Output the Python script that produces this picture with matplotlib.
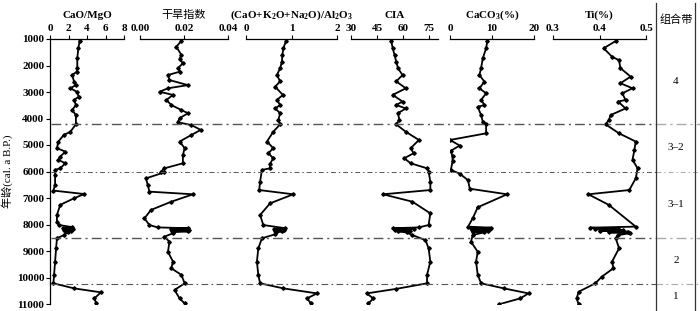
import matplotlib
matplotlib.use('Agg')
import matplotlib.pyplot as plt

plt.rcParams['font.family'] = ['Liberation Serif', 'Noto Sans CJK SC']
plt.rcParams['axes.unicode_minus'] = False
plt.rcParams['mathtext.fontset'] = 'custom'
plt.rcParams['mathtext.rm'] = 'Liberation Serif'
plt.rcParams['mathtext.bf'] = 'Liberation Serif:bold'
plt.rcParams['mathtext.default'] = 'bf'

# ages (cal. a B.P.) and values for each proxy
cao_mgo_age = [1075, 1350, 1730, 2100, 2230, 2360, 2610, 2740, 2860, 2990, 3180, 3300, 3490, 3680, 3870,
               4220, 4500, 4620, 4870, 5120, 5250, 5440, 5560, 5690, 5880, 5940, 6130, 6500, 6720, 6850,
               7010, 7260, 7640, 7890, 8020, 8100, 8140, 8170, 8200, 8230, 8260, 8300, 8400, 8520, 8900,
               9400, 9900, 10220, 10410, 10560, 10790, 10980]
cao_mgo = [3.2, 3.06, 2.95, 2.95, 2.9, 2.4, 2.6, 2.8, 2.2, 2.9, 3.1, 2.6, 2.8, 2.4, 2.8,
           2.8, 2.2, 1.5, 0.9, 0.75, 1.66, 1.1, 0.9, 1.66, 1.1, 0.55, 0.55, 0.55, 0.37, 3.7,
           2.6, 1.1, 0.75, 0.75, 1.0, 2.4, 1.4, 2.5, 1.5, 2.3, 1.6, 1.9, 1.5, 0.75, 0.66,
           0.55, 0.44, 0.37, 2.6, 5.5, 4.8, 5.0]

arid_age = [1075, 1290, 1600, 1750, 1920, 2100, 2230, 2360, 2550, 2740, 2860, 2990, 3110, 3300, 3490,
            3680, 3800, 3990, 4140, 4250, 4430, 4620, 4870, 5120, 5380, 5690, 5880, 6000, 6030, 6260,
            6500, 6760, 6860, 7140, 7450, 7770, 8020, 8110, 8140, 8170, 8200, 8230, 8260, 8290, 8330,
            8460, 8650, 9030, 9400, 9650, 9900, 10220, 10470, 10790, 10980]
arid = [0.0188, 0.0165, 0.0188, 0.018, 0.0195, 0.0172, 0.0182, 0.0127, 0.0134, 0.0218, 0.0127, 0.0089, 0.015, 0.012, 0.0142,
        0.0188, 0.0218, 0.018, 0.0172, 0.0234, 0.0276, 0.0234, 0.018, 0.0203, 0.0195, 0.0195, 0.0111, 0.0096, 0.0111, 0.0027,
        0.0035, 0.0043, 0.0241, 0.0142, 0.005, 0.002, 0.0043, 0.008, 0.0218, 0.014, 0.0222, 0.0145, 0.0220, 0.0150, 0.015,
        0.0111, 0.0134, 0.0127, 0.015, 0.0142, 0.0188, 0.0203, 0.0157, 0.018, 0.0203]

base_age = [1075, 1350, 1600, 1850, 2100, 2360, 2600, 2800, 3110, 3300, 3490, 3620, 3800, 4060, 4220,
            4500, 4870, 5120, 5310, 5500, 5700, 5880, 5940, 6380, 6700, 6860, 7200, 7640, 8020, 8140,
            8170, 8200, 8230, 8260, 8300, 8370, 8520, 8900, 9400, 9900, 10220, 10410, 10600, 10790, 10980]
base = [0.88, 0.82, 0.80, 0.79, 0.75, 0.68, 0.75, 0.64, 0.81, 0.68, 0.75, 0.64, 0.75, 0.71, 0.75,
        0.60, 0.46, 0.60, 0.49, 0.60, 0.53, 0.53, 0.35, 0.31, 0.29, 1.04, 0.53, 0.31, 0.38, 0.86,
        0.62, 0.84, 0.64, 0.80, 0.66, 0.64, 0.35, 0.27, 0.24, 0.27, 0.31, 0.82, 1.56, 1.34, 1.43]

cia_age = [1075, 1350, 1600, 1850, 2100, 2360, 2600, 2860, 3110, 3360, 3490, 3620, 3800, 4060, 4220,
           4500, 4810, 5120, 5310, 5500, 5690, 5880, 6000, 6380, 6700, 6860, 7140, 7580, 8020, 8110,
           8140, 8170, 8200, 8230, 8260, 8300, 8400, 8590, 8900, 9400, 9900, 10220, 10430, 10600, 10790, 10980]
cia = [53.1, 54, 55, 56, 57, 59.6, 56, 61.5, 54, 59.6, 56, 61.5, 57, 57.8, 55.9,
       61.5, 69, 64.3, 66, 60.6, 64.3, 73.7, 74.6, 75.6, 75.6, 48.4, 65.3, 75.6, 74.6, 69,
       54, 66, 55, 64, 57, 62, 65.3, 72.8, 74.6, 75.6, 73.7, 73.7, 55.9, 39, 42.8, 40]

caco3_age = [1075, 1350, 1730, 2100, 2360, 2610, 2860, 3050, 3300, 3490, 3560, 3870, 4120, 4220, 4560,
             4810, 5020, 5220, 5430, 5620, 5940, 6080, 6330, 6650, 6860, 7350, 7770, 8080, 8120, 8150,
             8180, 8210, 8240, 8270, 8300, 8400, 8650, 9030, 9400, 9900, 10220, 10410, 10600, 10790, 11010]
caco3 = [8.9, 8.6, 7.8, 7.4, 7.0, 8.2, 7.0, 8.6, 7.4, 8.2, 6.6, 7.4, 7.8, 8.6, 8.6,
         0.0, 2.3, 0.2, 0.6, 0.6, 0.2, 2.3, 4.3, 4.7, 13.6, 6.6, 5.4, 4.3, 9.7, 5.0,
         9.5, 5.2, 9.0, 5.5, 8.0, 5.4, 5.0, 6.6, 6.2, 6.6, 7.4, 12.8, 18.7, 16.7, 11.7]

ti_age = [1075, 1350, 1670, 1800, 2100, 2420, 2670, 2860, 3050, 3300, 3360, 3620, 3870, 4060, 4220,
          4560, 4870, 5190, 5560, 5880, 6260, 6700, 6860, 7260, 8080, 8120, 8150, 8180, 8210, 8240,
          8270, 8300, 8330, 8400, 8520, 8900, 9400, 9650, 9970, 10220, 10540, 10790, 11010]
ti = [0.435, 0.409, 0.427, 0.442, 0.445, 0.467, 0.445, 0.471, 0.449, 0.456, 0.44, 0.456, 0.424, 0.42, 0.413,
      0.442, 0.478, 0.475, 0.471, 0.482, 0.478, 0.464, 0.376, 0.42, 0.478, 0.38, 0.44, 0.39, 0.45, 0.40,
      0.462, 0.42, 0.465, 0.44, 0.435, 0.442, 0.427, 0.43, 0.405, 0.391, 0.355, 0.351, 0.355]

titles = ['CaO/MgO', '干旱指数', '(CaO+K$_2$O+Na$_2$O)/Al$_2$O$_3$', 'CIA', 'CaCO$_3$(%)', 'Ti(%)']
xlims = [(0, 8), (0, 0.04), (0, 2), (30, 80), (0, 20), (0.3, 0.5)]
xticks = [[0, 2, 4, 6, 8], [0.0, 0.02, 0.04], [0, 1, 2], [30, 45, 60, 75], [0, 10, 20], [0.3, 0.4, 0.5]]
xticklabels = [['0', '2', '4', '6', '8'], ['0.00', '0.02', '0.04'], ['0', '1', '2'],
               ['30', '45', '60', '75'], ['0', '10', '20'], ['0.3', '0.4', '0.5']]
series = [(cao_mgo_age, cao_mgo), (arid_age, arid), (base_age, base),
          (cia_age, cia), (caco3_age, caco3), (ti_age, ti)]

boundaries = [4200, 6000, 8500, 10250]
zones = ['4', '3–2', '3–1', '2', '1']
zone_mid = [2600, 5100, 7250, 9375, 10700]

W, H = 700, 311
panel_px = [(50, 124), (140, 228), (246, 337), (351, 438), (450, 534), (553, 646)]
top_px, bot_px = 39, 304

fig = plt.figure(figsize=(7, 3.11), dpi=100)

def frame(x0, x1):
    return [x0 / W, 1 - bot_px / H, (x1 - x0) / W, (bot_px - top_px) / H]

axes = []
for i, (x0, x1) in enumerate(panel_px):
    ax = fig.add_axes(frame(x0, x1))
    ax.patch.set_alpha(0)
    ages, vals = series[i]
    ax.plot(vals, ages, color='black', lw=1.3, marker='D', ms=1.8, zorder=3)
    ax.set_xlim(*xlims[i])
    ax.set_ylim(11000, 1000)
    ax.xaxis.tick_top()
    ax.set_xticks(xticks[i])
    ax.set_xticklabels(xticklabels[i])
    ax.tick_params(axis='x', direction='out', length=3, width=0.8, labelsize=8, pad=1)
    for s in ['right', 'bottom']:
        ax.spines[s].set_visible(False)
    ax.spines['top'].set_linewidth(0.9)
    ax.set_title(titles[i], fontsize=8, pad=15, fontweight='bold' if i != 1 else 'normal')
    if i == 0:
        ax.spines['left'].set_linewidth(0.9)
        ax.set_yticks(range(1000, 11001, 1000))
        ax.tick_params(axis='y', direction='out', length=3, width=0.8, labelsize=8, pad=1)
        for lab in ax.get_yticklabels():
            lab.set_fontweight('bold')
        ax.set_ylabel('年龄(cal. a B.P.)', fontsize=8, labelpad=3)
    else:
        ax.spines['left'].set_visible(False)
        ax.set_yticks([])
    for lab in ax.get_xticklabels():
        lab.set_fontweight('bold')
    axes.append(ax)

# overlay for boundary lines and zone column
ov = fig.add_axes([51 / W, 1 - bot_px / H, (W - 51) / W, (bot_px - top_px) / H])
ov.set_xlim(51, W)
ov.set_ylim(11000, 1000)
ov.axis('off')
styles = [(0, (7, 3, 1.5, 3)), (0, (5, 3, 1.5, 3)), (0, (7, 3, 1.5, 3)), (0, (6, 3, 1.5, 3))]
widths = [1.0, 0.7, 1.0, 0.8]
for b, st, lw in zip(boundaries, styles, widths):
    ov.plot([51, 656], [b, b], color='#555555', lw=lw, linestyle=st, zorder=1)
    ov.plot([656, W], [b, b], color='#aaaaaa', lw=lw, linestyle=st, zorder=1)
for z, m in zip(zones, zone_mid):
    ov.text(676, m, z, fontsize=8, ha='center', va='center')

# zone column borders
fig.add_artist(plt.Line2D([656 / W, 656 / W], [0, 1 - 3 / H], color='#333333', lw=0.9))
fig.add_artist(plt.Line2D([695 / W, 695 / W], [0, 1 - 3 / H], color='#333333', lw=0.9))
fig.text(676 / W, 1 - 20 / H, '组合带', fontsize=8, ha='center', va='center')

fig.savefig('out.png', dpi=100)
